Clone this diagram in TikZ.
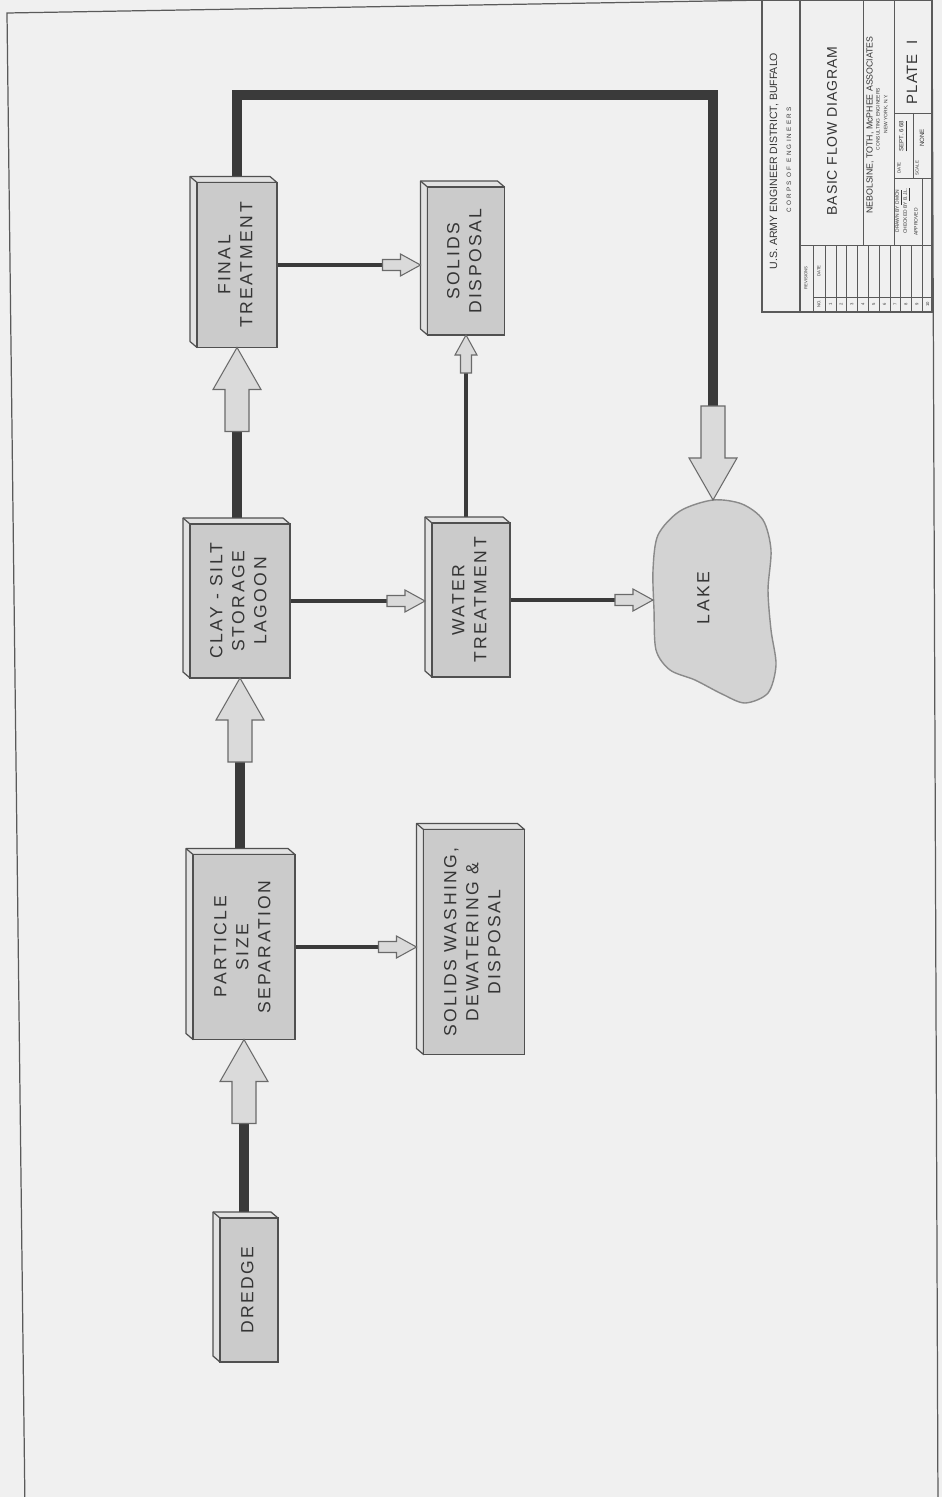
\documentclass[tikz,border=0pt]{standalone}
\usepackage{fontspec}
\setmainfont{Liberation Sans}
\newfontfamily\letterfont[LetterSpace=14]{Liberation Sans}
\newfontfamily\widefont[LetterSpace=35]{Liberation Sans}
\newfontfamily\titlefont[LetterSpace=6]{Liberation Sans}
\definecolor{paper}{HTML}{F0F0F0}
\definecolor{boxface}{HTML}{CBCBCB}
\definecolor{boxside}{HTML}{E2E2E2}
\definecolor{boxedge}{HTML}{505050}
\definecolor{flowdark}{HTML}{3A3A3A}
\definecolor{arrowfill}{HTML}{DADADA}
\definecolor{arrowedge}{HTML}{6A6A6A}
\definecolor{lakefill}{HTML}{D3D3D3}
\definecolor{lakeedge}{HTML}{8A8A8A}
\definecolor{ink}{HTML}{353535}
\definecolor{tbedge}{HTML}{5A5A5A}
\pgfdeclarelayer{paperlayer}
\pgfdeclarelayer{linelayer}
\pgfdeclarelayer{sidelayer}
\pgfsetlayers{paperlayer,linelayer,sidelayer,main}
\newcommand{\vtext}[1]{\rotatebox{90}{\begin{tabular}{@{}c@{}}#1\end{tabular}}}

\begin{document}
\begin{tikzpicture}[x=0.02cm, y=-0.02cm,
    unit/.style={rectangle, draw=boxedge, line width=0.9pt, fill=boxface, inner sep=0pt, outer sep=0pt,
                 text=ink, font=\letterfont\fontsize{10}{12.5}\selectfont},
    dims/.style 2 args={minimum width=#1*0.02cm, minimum height=#2*0.02cm},
    side/.style={fill=boxside, draw=boxedge, line width=0.7pt, line join=round},
    mainline/.style={draw=flowdark, line width=5.6pt},
    flowline/.style={draw=flowdark, line width=2.2pt},
    arrowbody/.style={fill=arrowfill, draw=arrowedge, line width=0.6pt},
    tbline/.style={draw=tbedge, line width=0.5pt},
    tbtext/.style={text=ink, inner sep=0pt},
    pics/bigarrow/.default=42,
    pics/bigarrow/.style={code={
        \draw[arrowbody] (0,0) -- (24,42) -- (12,42) -- (12,{42+#1}) -- (-12,{42+#1}) -- (-12,42) -- (-24,42) -- cycle;
        \coordinate (-tail) at (0,{42+#1});
    }},
    pics/smallarrow/.style={code={
        \draw[arrowbody] (0,0) -- (11,20) -- (5.5,20) -- (5.5,38) -- (-5.5,38) -- (-5.5,20) -- (-11,20) -- cycle;
        \coordinate (-tail) at (0,38);
    }}]
\useasboundingbox (0,0) rectangle (942,1497);
\begin{pgfonlayer}{paperlayer}
  \fill[paper] (0,0) rectangle (942,1497);
  \draw[tbedge, line width=0.7pt] (25,1510) -- (7,13) -- (945,-3);
  \draw[tbedge, line width=0.7pt] (932,-5) -- (938,1510);
\end{pgfonlayer}

% process boxes
\node[unit, dims={58}{144}] (dredge) at (249,1290) {\vtext{DREDGE}};
\node[unit, dims={102}{185}] (pss) at (244,947) {\vtext{PARTICLE\\SIZE\\SEPARATION}};
\node[unit, dims={100}{154}] (clay) at (240,601) {\vtext{CLAY - SILT\\STORAGE\\LAGOON}};
\node[unit, dims={80}{165}] (final) at (237,265) {\vtext{FINAL\\TREATMENT}};
\node[unit, dims={101}{225}] (swash) at (474,942) {\vtext{SOLIDS WASHING,\\DEWATERING \&\\DISPOSAL}};
\node[unit, dims={78}{154}] (water) at (471,600) {\vtext{WATER\\TREATMENT}};
\node[unit, dims={77}{148}] (sdisp) at (466,261) {\vtext{SOLIDS\\DISPOSAL}};

\begin{pgfonlayer}{sidelayer}
\foreach \b in {dredge,pss,clay,final,swash,water,sdisp}{
  \filldraw[side] (\b.south west) -- ([shift={(-7,-6)}]\b.south west) -- ([shift={(-7,-6)}]\b.north west)
      -- ([shift={(-7,-6)}]\b.north east) -- (\b.north east) -- (\b.north west) -- cycle;
  \draw[boxedge, line width=0.7pt] (\b.north west) -- ([shift={(-7,-6)}]\b.north west);
}
\end{pgfonlayer}

% lake
\filldraw[fill=lakefill, draw=lakeedge, line width=0.8pt] plot[smooth cycle] coordinates {(713,500) (742,504) (763,520) (771,550) (768,590) (771,630) (776,665) (768,693) (745,703) (722,694) (695,680) (670,670) (656,650) (654,610) (653,570) (658,535) (680,511)};
\node[tbtext, font=\letterfont\fontsize{10}{12.5}\selectfont] (lake) at (705,598) {\vtext{LAKE}};
\coordinate (lakeN) at (713,500);
\coordinate (lakeW) at (653,600);
\coordinate (looptop) at (0,95);

% arrows
\pic (a1) at (pss.south) {bigarrow};
\pic (a2) at (clay.south) {bigarrow};
\pic (a3) at (final.south) {bigarrow};
\pic[rotate=180] (a4) at (lakeN) {bigarrow=52};
\pic[shift={(-7,0)}, rotate=-90] (s1) at (swash.west |- pss.east) {smallarrow};
\pic[shift={(-7,0)}, rotate=-90] (s2) at (sdisp.west |- final.east) {smallarrow};
\pic[shift={(-7,0)}, rotate=-90] (s3) at (water.west |- clay.east) {smallarrow};
\pic (s4) at (sdisp.south) {smallarrow};
\pic[rotate=-90] (s5) at (lakeW |- water.east) {smallarrow};

\begin{pgfonlayer}{linelayer}
  \draw[mainline] (a1-tail |- dredge.north) -- (a1-tail);
  \draw[mainline] (a2-tail |- pss.north) -- (a2-tail);
  \draw[mainline] (a3-tail |- clay.north) -- (a3-tail);
  \draw[mainline] (final.north) -- (final.north |- looptop) -- (a4-tail |- looptop) -- (a4-tail);
  \draw[flowline] (pss.east) -- (s1-tail);
  \draw[flowline] (final.east) -- (s2-tail);
  \draw[flowline] (clay.east) -- (s3-tail);
  \draw[flowline] (s4-tail |- water.north) -- (s4-tail);
  \draw[flowline] (water.east) -- (s5-tail);
\end{pgfonlayer}

% title block
\draw[tbedge, line width=1.1pt] (762,0) rectangle (932,312);
\draw[tbedge, line width=0.9pt] (800,0) -- (800,312);
\draw[tbline] (863,0) -- (863,245) (894,0) -- (894,245) (800,245) -- (932,245);
\draw[tbline] (894,113) -- (932,113) (894,178) -- (932,178) (913,113) -- (913,178) (922,178) -- (922,245);
\draw[tbline] (813,245) -- (813,312) (813,297) -- (932,297);
\foreach \i in {0,...,9}
  \draw[tbline, line width=0.3pt] ({825+10.8*\i},245) -- ({825+10.8*\i},312);
\node[tbtext, font=\fontsize{6}{7}\selectfont] (tb1) at (774,161) {\rotatebox{90}{U.S. ARMY ENGINEER DISTRICT, BUFFALO}};
\node[tbtext, font=\widefont\fontsize{3.6}{4}\selectfont] (tb2) at (789,160) {\rotatebox{90}{CORPS OF ENGINEERS}};
\node[tbtext, font=\titlefont\fontsize{8}{9}\selectfont] (tb3) at (832,131) {\rotatebox{90}{BASIC FLOW DIAGRAM}};
\node[tbtext, font=\fontsize{5}{6}\selectfont] (tb4) at (870,125) {\rotatebox{90}{NEBOLSINE, TOTH, McPHEE ASSOCIATES}};
\node[tbtext, font=\fontsize{2.8}{3}\selectfont] (tb5) at (878,119) {\rotatebox{90}{CONSULTING ENGINEERS}};
\node[tbtext, font=\fontsize{2.8}{3}\selectfont] (tb6) at (886,114) {\rotatebox{90}{NEW YORK, N.Y.}};
\node[tbtext, font=\titlefont\fontsize{8.5}{9}\selectfont] (tb7) at (912,72) {\rotatebox{90}{PLATE\ \ I}};
\node[tbtext, font=\fontsize{2.8}{3}\selectfont] (tb8) at (899,211) {\rotatebox{90}{DRAWN BY \underline{DMCN}}};
\node[tbtext, font=\fontsize{2.8}{3}\selectfont] (tb9) at (907,211) {\rotatebox{90}{CHECKED BY \underline{B.J.L.}}};
\node[tbtext, font=\fontsize{2.8}{3}\selectfont] (tb10) at (916,222) {\rotatebox{90}{APPROVED}};
\node[tbtext, font=\fontsize{2.5}{3}\selectfont] (tb11) at (899,168) {\rotatebox{90}{DATE}};
\node[tbtext, font=\fontsize{3.5}{4}\selectfont] (tb12) at (903,136) {\rotatebox{90}{\underline{SEPT. 6 68}}};
\node[tbtext, font=\fontsize{2.5}{3}\selectfont] (tb13) at (917,168) {\rotatebox{90}{SCALE}};
\node[tbtext, font=\fontsize{3.5}{4}\selectfont] (tb14) at (922,138) {\rotatebox{90}{NONE}};
\node[tbtext, font=\fontsize{2.4}{3}\selectfont] (tb15) at (806,278) {\rotatebox{90}{REVISIONS}};
\node[tbtext, font=\fontsize{2.4}{3}\selectfont] (tb16) at (819,271) {\rotatebox{90}{DATE}};
\node[tbtext, font=\fontsize{2.4}{3}\selectfont] (tb17) at (819,304) {\rotatebox{90}{NO.}};
\foreach \i in {1,...,10}
  \node[tbtext, font=\fontsize{2.4}{3}\selectfont] (rev\i) at ({819.6+10.8*\i},304) {\rotatebox{90}{\i}};
\end{tikzpicture}
\end{document}
